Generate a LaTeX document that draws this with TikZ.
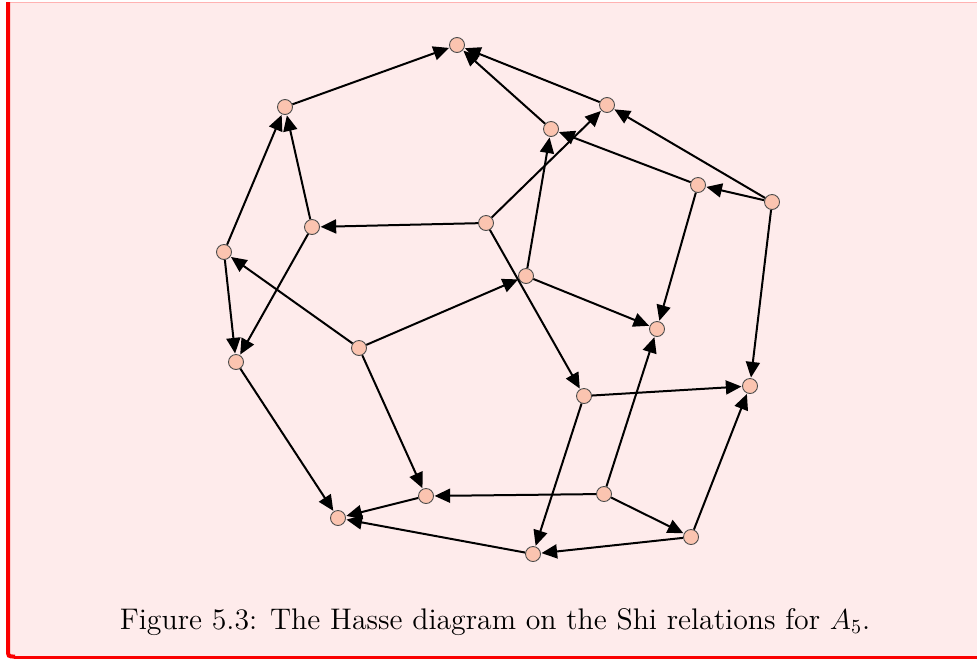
\documentclass[tikz,border=0pt]{standalone}
\usetikzlibrary{arrows.meta}
\definecolor{boxbg}{RGB}{254,235,235}
\definecolor{boxrule}{RGB}{250,0,0}
\definecolor{boxtop}{RGB}{255,178,178}
\definecolor{vtxfill}{RGB}{251,196,176}
\tikzset{
  vtx/.style={circle, draw=black!70, fill=vtxfill, line width=0.45pt, minimum size=7.5pt, inner sep=0pt},
  cover/.style={-{Triangle[length=7.8pt,width=7pt]}, line width=1pt, shorten >=0.3pt},
}
\begin{document}
\begin{tikzpicture}[x=0.5pt, y=-0.5pt]
			\useasboundingbox (0,0) rectangle (977,659);
			% the box round the figure
			\fill[boxbg] (6,2) -- (977,2) -- (977,658) -- (15,658) .. controls (6,658) .. (6,649) -- cycle;
			\draw[boxtop, line width=0.8pt] (6,2.5) -- (977,2.5);
			\draw[boxrule, line width=2pt] (8,2) -- (8,649) .. controls (8,656.5) .. (15,656.5);
			\draw[boxrule, line width=1.3pt] (14,657.3) -- (977,657.3);
			% the twenty elements
			\node[vtx] (top) at (457,45) {};
			\node[vtx] (ul) at (285,107) {};
			\node[vtx] (ur) at (607,105) {};
			\node[vtx] (um) at (551,129) {};
			\node[vtx] (rd) at (698,185) {};
			\node[vtx] (re) at (772,202) {};
			\node[vtx] (lf) at (312,227) {};
			\node[vtx] (cg) at (486,223) {};
			\node[vtx] (lh) at (224,252) {};
			\node[vtx] (ci) at (526,276) {};
			\node[vtx] (rj) at (657,329) {};
			\node[vtx] (ck) at (359,348) {};
			\node[vtx] (ll) at (236,362) {};
			\node[vtx] (rm) at (750,386) {};
			\node[vtx] (cn) at (584,396) {};
			\node[vtx] (bo) at (426,496) {};
			\node[vtx] (bp) at (604,494) {};
			\node[vtx] (bq) at (691,537) {};
			\node[vtx] (bot) at (338,518) {};
			\node[vtx] (bs) at (533,554) {};
			% the cover relations
			\draw[cover] (ul) -- (top);
			\draw[cover] (um) -- (top);
			\draw[cover] (ur) -- (top);
			\draw[cover] (lh) -- (ul);
			\draw[cover] (lf) -- (ul);
			\draw[cover] (cg) -- (lf);
			\draw[cover] (cg) -- (ur);
			\draw[cover] (ci) -- (um);
			\draw[cover] (rd) -- (um);
			\draw[cover] (re) -- (ur);
			\draw[cover] (re) -- (rd);
			\draw[cover] (rd) -- (rj);
			\draw[cover] (re) -- (rm);
			\draw[cover] (ci) -- (rj);
			\draw[cover] (cg) -- (cn);
			\draw[cover] (ck) -- (ci);
			\draw[cover] (ck) -- (lh);
			\draw[cover] (ck) -- (bo);
			\draw[cover] (lh) -- (ll);
			\draw[cover] (lf) -- (ll);
			\draw[cover] (ll) -- (bot);
			\draw[cover] (bo) -- (bot);
			\draw[cover] (bs) -- (bot);
			\draw[cover] (bp) -- (bo);
			\draw[cover] (bp) -- (rj);
			\draw[cover] (bp) -- (bq);
			\draw[cover] (cn) -- (rm);
			\draw[cover] (cn) -- (bs);
			\draw[cover] (bq) -- (bs);
			\draw[cover] (bq) -- (rm);
			% the caption
			\node[font=\fontsize{14.9}{17}\selectfont, anchor=base] (cap) at (495,629) {Figure 5.3: The Hasse diagram on the Shi relations for $A_5$.};
\end{tikzpicture}
\end{document}
